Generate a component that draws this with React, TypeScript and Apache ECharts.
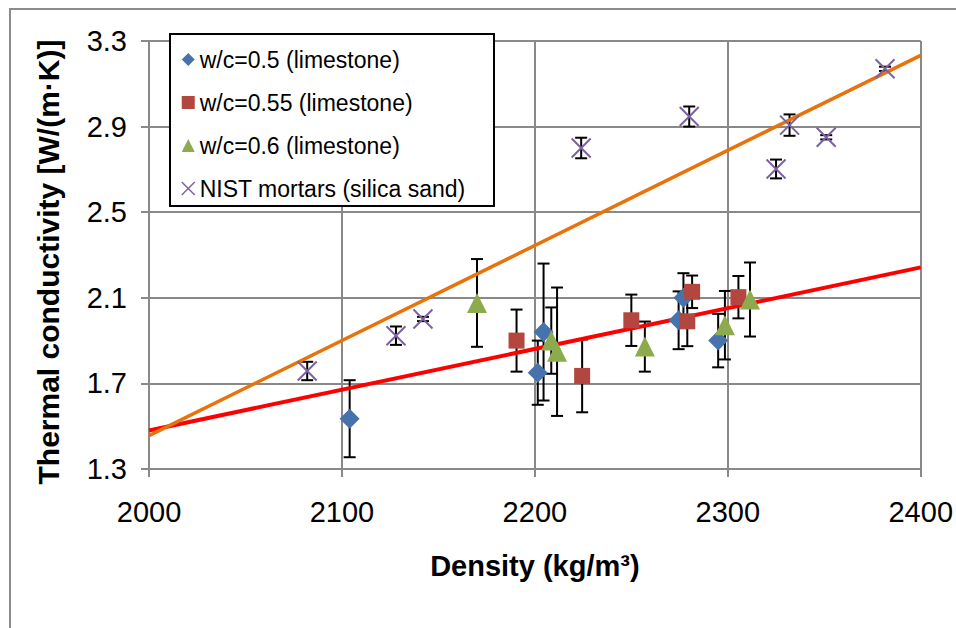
import React, { useEffect, useRef } from "react";
import * as echarts from "echarts";

// [density, conductivity, half error]
const wc050: number[][] = [
  [2104, 1.535, 0.18],
  [2201.5, 1.75, 0.15],
  [2204.5, 1.94, 0.32],
  [2274.5, 1.995, 0.135],
  [2277, 2.1, 0.115],
  [2295, 1.9, 0.125],
];
const wc055: number[][] = [
  [2190.5, 1.9, 0.145],
  [2224.5, 1.735, 0.17],
  [2250, 1.995, 0.12],
  [2279, 1.99, 0.116],
  [2281.5, 2.128, 0.076],
  [2305.5, 2.103, 0.099],
];
const wc060: number[][] = [
  [2170, 2.076, 0.205],
  [2208.5, 1.9, 0.155],
  [2211.5, 1.848, 0.3],
  [2257, 1.872, 0.117],
  [2298.5, 1.972, 0.16],
  [2311.5, 2.092, 0.173],
];
const nist: number[][] = [
  [2082, 1.758, 0.043],
  [2128, 1.923, 0.043],
  [2142, 2.001, 0.01],
  [2224, 2.8, 0.048],
  [2280, 2.947, 0.047],
  [2325, 2.702, 0.044],
  [2332, 2.907, 0.05],
  [2351, 2.85, 0.01],
  [2381.5, 3.17, 0.01],
];
// trend line end points
const limestoneTrend: number[][] = [
  [2000, 1.48],
  [2400, 2.242],
];
const nistTrend: number[][] = [
  [2000, 1.456],
  [2400, 3.233],
];

const seriesNames = [
  "w/c=0.5 (limestone)",
  "w/c=0.55 (limestone)",
  "w/c=0.6 (limestone)",
  "NIST mortars (silica sand)",
];
const xTitle = "Density (kg/m³)";
const yTitle = "Thermal conductivity [W/(m·K)]";

const FONT = "'Liberation Sans', Arial, sans-serif";
const GRID = "#898989";
const C_BLUE = "#4673ac";
const C_RED = "#b3463f";
const C_GREEN = "#8dab4c";
const C_PURPLE = "#7d62a0";
const X_PATH = "path://M0,0L10,10M10,0L0,10";

function errSeries(data: number[][]) {
  return {
    type: "custom",
    coordinateSystem: "cartesian2d",
    silent: true,
    z: 2,
    encode: { x: 0, y: [1, 2] },
    data: data.map((d) => [d[0], d[1] - d[2], d[1] + d[2]]),
    renderItem: (_p: any, api: any) => {
      const x = api.value(0);
      const p1 = api.coord([x, api.value(1)]);
      const p2 = api.coord([x, api.value(2)]);
      const hw = 6;
      const style = { stroke: "#000", lineWidth: 2 };
      return {
        type: "group",
        children: [
          { type: "line", shape: { x1: p1[0], y1: p1[1], x2: p2[0], y2: p2[1] }, style },
          { type: "line", shape: { x1: p1[0] - hw, y1: p1[1], x2: p1[0] + hw, y2: p1[1] }, style },
          { type: "line", shape: { x1: p2[0] - hw, y1: p2[1], x2: p2[0] + hw, y2: p2[1] }, style },
        ],
      };
    },
  };
}

export default function App() {
  const ref = useRef<HTMLDivElement>(null);
  useEffect(() => {
    if (!ref.current) return;
    const chart = echarts.init(ref.current, undefined, { renderer: "svg" });
    const axisLineStyle = { color: GRID, width: 2 };
    chart.setOption({
      animation: false,
      backgroundColor: "#fff",
      textStyle: { fontFamily: FONT },
      grid: { left: 149, right: 35, top: 41, bottom: 159 },
      graphic: [
        {
          type: "rect",
          z: 0,
          silent: true,
          shape: { x: 10, y: 9, width: 1000, height: 700 },
          style: { fill: "none", stroke: "#8c8c8c", lineWidth: 2 },
        },
        {
          type: "rect",
          z: 5,
          silent: true,
          shape: { x: 170, y: 34, width: 324, height: 172 },
          style: { fill: "#fff", stroke: "#000", lineWidth: 2 },
        },
      ],
      legend: {
        z: 6,
        orient: "vertical",
        left: 181,
        top: 48,
        padding: 0,
        itemGap: 20,
        itemWidth: 13,
        itemHeight: 13,
        textStyle: { fontSize: 23, color: "#000", fontFamily: FONT },
        data: [
          { name: seriesNames[0], icon: "diamond" },
          { name: seriesNames[1], icon: "rect" },
          { name: seriesNames[2], icon: "triangle" },
          {
            name: seriesNames[3],
            icon: X_PATH,
            itemStyle: { color: "transparent", borderColor: C_PURPLE, borderWidth: 1.5 },
          },
        ],
      },
      xAxis: {
        type: "value",
        min: 2000,
        max: 2400,
        interval: 100,
        name: xTitle,
        nameLocation: "middle",
        nameGap: 82,
        nameTextStyle: { fontSize: 29, fontWeight: "bold", color: "#000", fontFamily: FONT },
        axisLine: { show: true, lineStyle: axisLineStyle },
        axisTick: { show: true, length: 8, lineStyle: axisLineStyle },
        splitLine: { show: true, lineStyle: axisLineStyle },
        axisLabel: {
          fontSize: 29,
          color: "#000",
          margin: 28,
          fontFamily: FONT,
          formatter: (v: number) => String(Math.round(v)),
        },
      },
      yAxis: {
        type: "value",
        min: 1.3,
        max: 3.3,
        interval: 0.4,
        name: yTitle,
        nameLocation: "middle",
        nameGap: 86,
        nameTextStyle: {
          fontSize: 30,
          fontWeight: "bold",
          color: "#000",
          fontFamily: FONT,
          padding: [0, 14, 0, 0],
        },
        axisLine: { show: true, lineStyle: axisLineStyle },
        axisTick: { show: true, length: 8, lineStyle: axisLineStyle },
        splitLine: { show: true, lineStyle: axisLineStyle },
        axisLabel: {
          fontSize: 29,
          color: "#000",
          margin: 22,
          fontFamily: FONT,
          formatter: (v: number) => v.toFixed(1),
        },
      },
      series: [
        errSeries(wc050),
        errSeries(wc055),
        errSeries(wc060),
        errSeries(nist),
        {
          type: "line",
          z: 3,
          silent: true,
          symbol: "none",
          data: limestoneTrend,
          lineStyle: { color: "#ff0000", width: 4 },
        },
        {
          type: "line",
          z: 3,
          silent: true,
          symbol: "none",
          data: nistTrend,
          lineStyle: { color: "#e8730c", width: 3.5 },
        },
        {
          name: seriesNames[0],
          type: "scatter",
          z: 4,
          symbol: "diamond",
          symbolSize: 20,
          itemStyle: { color: C_BLUE, opacity: 1 },
          data: wc050.map((d) => [d[0], d[1]]),
        },
        {
          name: seriesNames[1],
          type: "scatter",
          z: 4,
          symbol: "rect",
          symbolSize: 16,
          itemStyle: { color: C_RED, opacity: 1 },
          data: wc055.map((d) => [d[0], d[1]]),
        },
        {
          name: seriesNames[2],
          type: "scatter",
          z: 4,
          symbol: "triangle",
          symbolSize: 20,
          itemStyle: { color: C_GREEN, opacity: 1 },
          data: wc060.map((d) => [d[0], d[1]]),
        },
        {
          name: seriesNames[3],
          type: "scatter",
          z: 4,
          symbol: X_PATH,
          symbolSize: 19,
          itemStyle: { color: "transparent", borderColor: C_PURPLE, borderWidth: 2, opacity: 1 },
          data: nist.map((d) => [d[0], d[1]]),
        },
      ],
    });
    return () => chart.dispose();
  }, []);
  return (
    <div
      ref={ref}
      style={{ position: "absolute", left: 0, top: 0, width: 956, height: 628, background: "#fff" }}
    />
  );
}
